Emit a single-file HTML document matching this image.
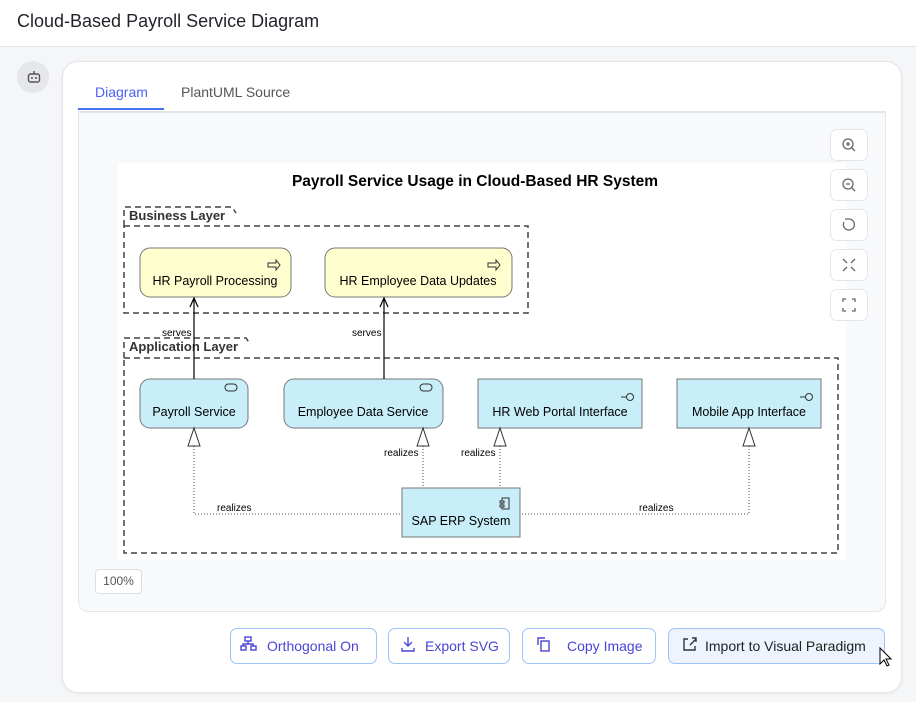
<!DOCTYPE html>
<html><head><meta charset="utf-8"><style>
*{box-sizing:border-box;margin:0;padding:0}
body{width:916px;height:702px;background:#f5f6f8;font-family:"Liberation Sans",sans-serif;position:relative;overflow:hidden}
.hdr{position:absolute;left:0;top:0;width:916px;height:47px;background:#fff;border-bottom:1px solid #e3e5e8}
.hdr h1{position:absolute;left:17px;top:11px;font-size:18px;font-weight:normal;color:#1f2329}
.av{position:absolute;left:17px;top:61px;width:32px;height:32px;border-radius:50%;background:#e6e7ea}
.card{position:absolute;left:62px;top:61px;width:840px;height:632px;background:#fff;border:1px solid #e3e5e8;border-radius:16px;box-shadow:0 1px 3px rgba(0,0,0,.06)}
.tab{position:absolute;top:84px;font-size:14px}
.panel{position:absolute;left:78px;top:111px;width:808px;height:501px;background:#f8f9fb;border:1px solid #e3e5e8;border-top:2px solid #e3e5e8;border-radius:0 0 10px 10px}
.zb{position:absolute;left:830px;width:38px;height:32px;background:#fff;border:1px solid #e3e5e8;border-radius:7px}
.btn{position:absolute;top:628px;height:36px;border:1px solid #9ec3f7;border-radius:7px;background:#fff;font-size:14px;color:#4b44d6;line-height:34px;padding-left:36px}
</style></head><body>
<div class="hdr"><h1>Cloud-Based Payroll Service Diagram</h1></div>
<div class="av"></div>
<div class="card"></div>
<div class="tab" style="left:95px;color:#4b62f0">Diagram</div>
<div style="position:absolute;left:78px;top:108px;width:86px;height:2px;background:#4b72f0"></div>
<div class="tab" style="left:181px;color:#555">PlantUML Source</div>
<div class="panel"></div>
<div style="position:absolute;left:118px;top:163px;width:728px;height:397px;background:#fff"></div>
<div class="zb" style="top:129px"></div><div class="zb" style="top:169px"></div><div class="zb" style="top:209px"></div><div class="zb" style="top:249px"></div><div class="zb" style="top:289px"></div>
<div style="position:absolute;left:95px;top:569px;width:47px;height:25px;background:#fff;border:1px solid #dcdfe3;border-radius:4px;font-size:12px;color:#555;text-align:center;line-height:23px">100%</div>
<div class="btn" style="left:230px;width:147px">Orthogonal On</div>
<div class="btn" style="left:388px;width:122px">Export SVG</div>
<div class="btn" style="left:522px;width:134px;padding-left:44px">Copy Image</div>
<div class="btn" style="left:668px;width:217px;background:#eef4fe;color:#222">Import to Visual Paradigm</div>
<svg style="position:absolute;left:0;top:0;z-index:5" width="916" height="702" font-family="Liberation Sans, sans-serif">
<g fill="none" stroke="#555" stroke-width="1.4"><rect x="28.5" y="74" width="11" height="8" rx="2"/><line x1="34" y1="71" x2="34" y2="74"/></g>
<circle cx="32" cy="78" r="1" fill="#555"/><circle cx="36" cy="78" r="1" fill="#555"/>
<g fill="none" stroke="#666" stroke-width="1.3">
<circle cx="848" cy="144" r="5"/><line x1="852" y1="148" x2="855" y2="151"/><line x1="846" y1="144" x2="850" y2="144"/><line x1="848" y1="142" x2="848" y2="146"/>
<circle cx="848" cy="184" r="5"/><line x1="852" y1="188" x2="855" y2="191"/><line x1="846" y1="184" x2="850" y2="184"/>
<path d="M844 222 A5.5 5.5 0 1 0 849 219 L845 219"/>
<path d="M843 259l4 4M855 259l-4 4M843 271l4-4M855 271l-4-4"/>
<path d="M843 302v-3h3M852 299h3v3M855 308v3h-3M846 311h-3v-3"/>
</g>
<text x="475" y="186" font-size="15.5" font-weight="bold" text-anchor="middle">Payroll Service Usage in Cloud-Based HR System</text>
<g stroke="#444" stroke-width="1.5" stroke-dasharray="6,4" fill="none">
<path d="M124 226V207H232l4 6"/><rect x="124" y="226" width="404" height="87"/>
<path d="M124 358V338H246l4 6"/><rect x="124" y="358" width="714" height="195"/>
</g>
<text x="129" y="220" font-size="13" font-weight="bold" fill="#333">Business Layer</text>
<text x="129" y="351" font-size="13" font-weight="bold" fill="#333">Application Layer</text>
<g stroke="#777" fill="#fefece">
<rect x="140" y="248" width="151" height="49" rx="10"/><rect x="325" y="248" width="187" height="49" rx="10"/>
</g>
<g font-size="12.5" text-anchor="middle">
<text x="215" y="285">HR Payroll Processing</text><text x="418" y="285">HR Employee Data Updates</text></g>
<g stroke="#333" fill="#fefece" stroke-width="1"><path d="M268 263h8v-3l4 5-4 5v-3h-8z"/><path d="M488 263h8v-3l4 5-4 5v-3h-8z"/></g>
<g stroke="#777" fill="#c8eef9">
<rect x="140" y="379" width="108" height="49" rx="10"/><rect x="284" y="379" width="159" height="49" rx="10"/>
<rect x="478" y="379" width="164" height="49"/><rect x="677" y="379" width="144" height="49"/><rect x="402" y="488" width="118" height="49"/>
</g>
<g font-size="12.5" text-anchor="middle">
<text x="194" y="416">Payroll Service</text><text x="363" y="416">Employee Data Service</text>
<text x="560" y="416">HR Web Portal Interface</text><text x="749" y="416">Mobile App Interface</text><text x="461" y="525">SAP ERP System</text></g>
<g stroke="#333" fill="#c8eef9" stroke-width="1">
<rect x="225" y="384" width="12" height="7" rx="3.5"/><rect x="420" y="384" width="12" height="7" rx="3.5"/>
<line x1="621" y1="397" x2="627" y2="397"/><circle cx="630" cy="397" r="3.5"/>
<line x1="800" y1="397" x2="806" y2="397"/><circle cx="809" cy="397" r="3.5"/>
<rect x="502" y="498" width="7" height="11"/><rect x="500" y="501" width="4" height="2"/><rect x="500" y="505" width="4" height="2"/>
</g>
<g stroke="#000" stroke-width="1.2" fill="none">
<line x1="194" y1="379" x2="194" y2="298"/><path d="M190 307l4-9 4 9"/>
<line x1="384" y1="379" x2="384" y2="298"/><path d="M380 307l4-9 4 9"/>
</g>
<g stroke="#444" stroke-dasharray="1,2" fill="none">
<path d="M194 446V514H402"/><path d="M423 446V488"/><path d="M500 446V488"/><path d="M749 446V514H520"/>
</g>
<g stroke="#333" fill="#fff"><path d="M188 446l6-18 6 18z"/><path d="M417 446l6-18 6 18z"/><path d="M494 446l6-18 6 18z"/><path d="M743 446l6-18 6 18z"/></g>
<g font-size="10">
<text x="162" y="336">serves</text><text x="352" y="336">serves</text>
<text x="384" y="456">realizes</text><text x="461" y="456">realizes</text>
<text x="217" y="511">realizes</text><text x="639" y="511">realizes</text></g>
<g fill="none" stroke="#4b44d6" stroke-width="1.4">
<rect x="245" y="637" width="6" height="4"/><rect x="241" y="646" width="5" height="4"/><rect x="251" y="646" width="5" height="4"/><path d="M248 641v3M243 646v-2h10v2"/>
<path d="M408 637v9M404 642l4 4 4-4M402 648v3h12v-3"/>
<path d="M538 645v-7h7"/><rect x="541" y="641" width="8" height="10"/>
</g>
<g fill="none" stroke="#333" stroke-width="1.4"><path d="M688 639h-4v11h11v-4M690 645l6-6M692 638h4v4"/></g>
<path d="M880 648v16l4-4 3 6 2-1-3-6h5z" fill="#fff" stroke="#000" stroke-width="1"/>
</svg>
</body></html>
